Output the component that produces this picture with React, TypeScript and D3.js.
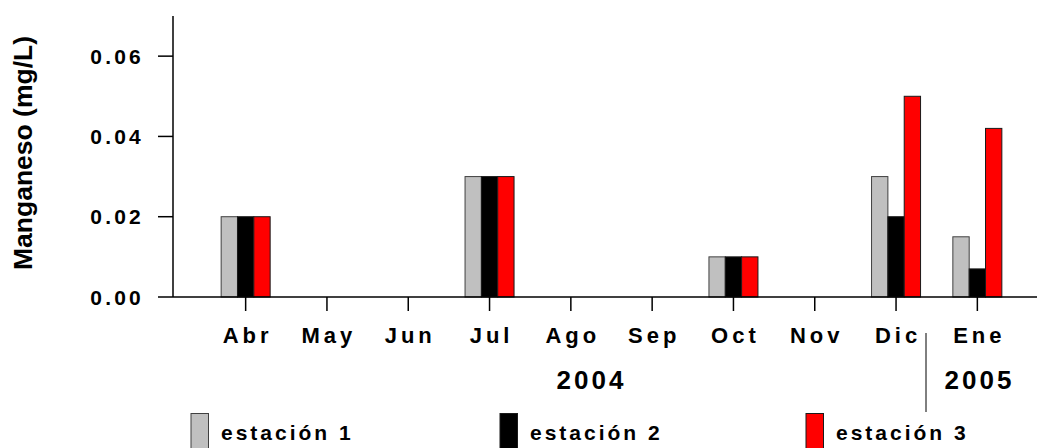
import React from "react";
import * as d3 from "d3";

const months = ["Abr", "May", "Jun", "Jul", "Ago", "Sep", "Oct", "Nov", "Dic", "Ene"];
const seriesNames = ["estación 1", "estación 2", "estación 3"];
const estacion1 = [0.02, 0, 0, 0.03, 0, 0, 0.01, 0, 0.03, 0.015];
const estacion2 = [0.02, 0, 0, 0.03, 0, 0, 0.01, 0, 0.02, 0.007];
const estacion3 = [0.02, 0, 0, 0.03, 0, 0, 0.01, 0, 0.05, 0.042];
const yTicks = [0, 0.02, 0.04, 0.06];
const years = [
  { label: "2004", at: 590 },
  { label: "2005", at: 978 },
];
const colors = ["#c0c0c0", "#000000", "#ff0000"];

const W = 1037;
const H = 448;
const FONT = "'Liberation Sans', Arial, Helvetica, sans-serif";

export default function App() {
  const series = [estacion1, estacion2, estacion3];
  const x = d3.scaleBand<string>().domain(months).range([205, 1018]).padding(0);
  const xs = d3
    .scaleBand<number>()
    .domain([0, 1, 2])
    .range([x.bandwidth() / 2 - 24.5, x.bandwidth() / 2 + 24.5])
    .padding(0);
  const y = d3.scaleLinear().domain([0, 0.07]).range([297, 16]);
  const axisX = 173;
  const fmt = d3.format(".2f");

  return (
    <svg
      width={W}
      height={H}
      style={{ position: "absolute", left: 0, top: 0, background: "#fff" }}
      fontFamily={FONT}
      fontWeight="bold"
    >
      <rect x={0} y={0} width={W} height={H} fill="#fff" />
      {/* bars */}
      {months.map((m, i) =>
        series.map((s, k) =>
          s[i] > 0 ? (
            <rect
              key={m + k}
              x={(x(m) as number) + (xs(k) as number)}
              y={y(s[i])}
              width={xs.bandwidth()}
              height={y(0) - y(s[i])}
              fill={colors[k]}
              stroke={k === 0 ? "#404040" : "#1a1a1a"}
              strokeWidth={1}
            />
          ) : null
        )
      )}
      {/* y axis */}
      <line x1={axisX} x2={axisX} y1={y(0.07)} y2={y(0)} stroke="#000" strokeWidth={1.5} />
      {yTicks.map((t) => (
        <g key={t}>
          <line x1={158} x2={axisX} y1={y(t)} y2={y(t)} stroke="#000" strokeWidth={1.5} />
          <text
            x={144}
            y={y(t) + 7.5}
            textAnchor="end"
            fontSize={21}
            letterSpacing={3.2}
            fill="#000"
          >
            {fmt(t)}
          </text>
        </g>
      ))}
      <text
        transform={`translate(32,153) rotate(-90)`}
        textAnchor="middle"
        fontSize={26.5}
        fill="#000"
      >
        Manganeso (mg/L)
      </text>
      {/* x axis */}
      <line x1={axisX} x2={W} y1={y(0)} y2={y(0)} stroke="#000" strokeWidth={1.5} />
      {months.map((m) => {
        const cx = (x(m) as number) + x.bandwidth() / 2;
        return (
          <g key={m}>
            <line x1={cx} x2={cx} y1={y(0)} y2={311} stroke="#000" strokeWidth={1.5} />
            <text x={cx + 2} y={343} textAnchor="middle" fontSize={22} letterSpacing={4} fill="#000">
              {m}
            </text>
          </g>
        );
      })}
      {years.map((yr) => (
        <text
          key={yr.label}
          x={yr.at + 1.5}
          y={389}
          textAnchor="middle"
          fontSize={26}
          letterSpacing={3}
          fill="#000"
        >
          {yr.label}
        </text>
      ))}
      <line x1={926} x2={926} y1={333} y2={412} stroke="#000" strokeWidth={1} />
      {/* legend */}
      {seriesNames.map((n, k) => {
        const lx = [191, 500, 806][k];
        return (
          <g key={n}>
            <rect
              x={lx}
              y={413.5}
              width={17.5}
              height={40}
              fill={colors[k]}
              stroke={k === 0 ? "#404040" : "#1a1a1a"}
              strokeWidth={1}
            />
            <text x={lx + 30} y={440} fontSize={21} letterSpacing={3} fill="#000">
              {n}
            </text>
          </g>
        );
      })}
    </svg>
  );
}
